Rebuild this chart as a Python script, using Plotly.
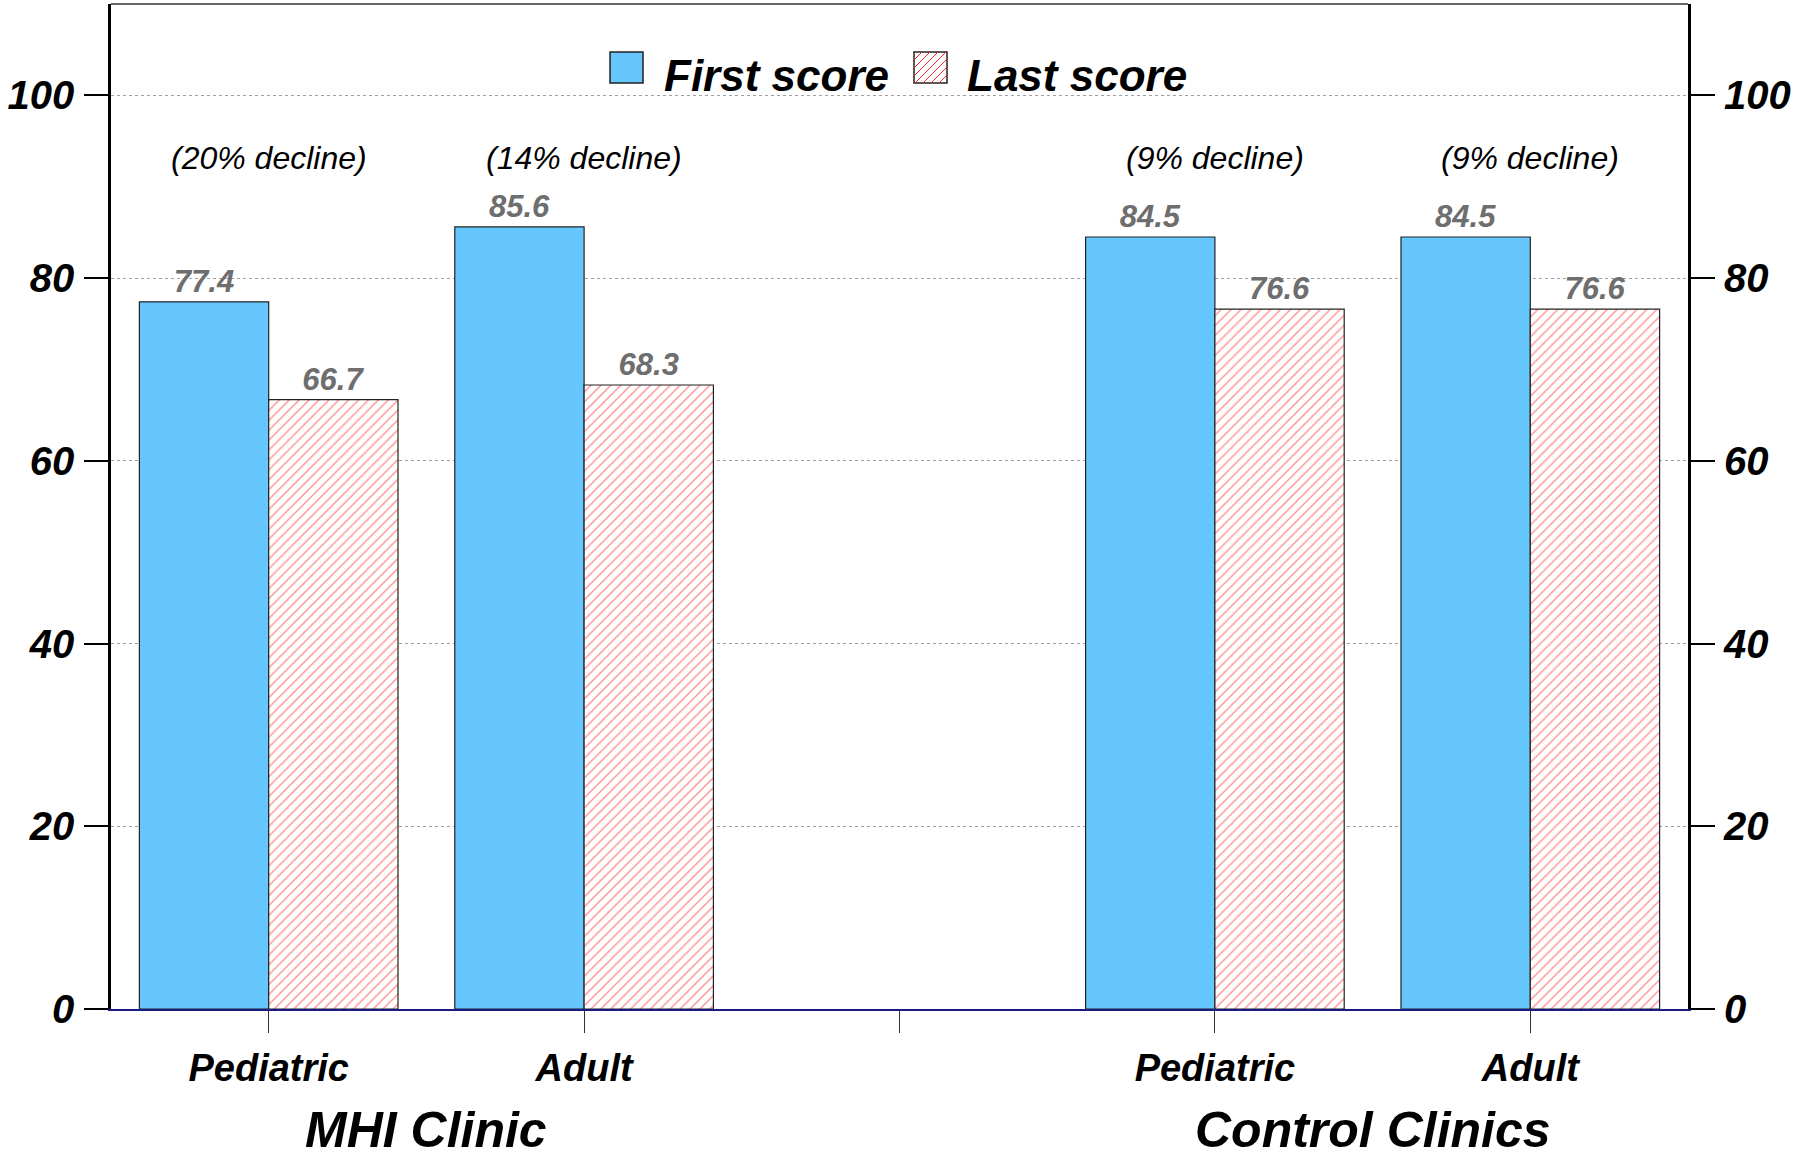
import plotly.graph_objects as go

# Chart data
categories = ["Pediatric", "Adult", "", "Pediatric", "Adult"]
first_score = [77.4, 85.6, None, 84.5, 84.5]
last_score = [66.7, 68.3, None, 76.6, 76.6]
decline_labels = ["(20% decline)", "(14% decline)", "", "(9% decline)", "(9% decline)"]
group_names = ["MHI Clinic", "Control Clinics"]
group_centers = [0.5, 3.5]
y_ticks = [0, 20, 40, 60, 80, 100]

x_pos = list(range(len(categories)))

W, H = 1796, 1160
ML, MR, MT, MB = 111, 108, 4, 151
PW, PH = W - ML - MR, H - MT - MB

FONT = "Liberation Sans, Arial, sans-serif"
BLUE = "#66C7FF"
HATCH_RED = "#FF2424"


def px_to_paper_x(px):
    return (px - ML) / PW


def px_to_paper_y(py):
    return (H - MB - py) / PH


label_font = dict(family=FONT, size=31, color="#6E6E6E", weight="bold", style="italic")

fig = go.Figure()

fig.add_trace(go.Bar(
    x=x_pos, y=first_score, name="First score",
    marker=dict(color=BLUE, line=dict(color="#222222", width=1.2)),
    text=[None if v is None else f"{v:.1f}" for v in first_score],
    textposition="outside", cliponaxis=False, textfont=label_font,
    showlegend=False,
))
fig.add_trace(go.Bar(
    x=x_pos, y=last_score, name="Last score",
    marker=dict(color="white", line=dict(color="#222222", width=1.2),
                pattern=dict(shape="/", fgcolor=HATCH_RED, bgcolor="white",
                             size=7, solidity=0.2)),
    text=[None if v is None else f"{v:.1f}" for v in last_score],
    textposition="outside", cliponaxis=False, textfont=label_font,
    showlegend=False,
))

# Decline notes above each category
annotations = []
for xi, lab in zip(x_pos, decline_labels):
    if lab:
        annotations.append(dict(
            x=xi, y=93.1, xref="x", yref="y", text=lab, showarrow=False,
            font=dict(family=FONT, size=32, color="black", style="italic"),
        ))

# Clinic group names under the category labels
for name, cx in zip(group_names, group_centers):
    annotations.append(dict(
        x=cx, y=px_to_paper_y(H), xref="x", yref="paper", text=name, showarrow=False,
        yanchor="bottom",
        font=dict(family=FONT, size=50, color="black", weight="bold", style="italic"),
    ))

# Legend drawn as boxes and labels across the top
shapes = []
legend_items = [
    ("First score", 610, 662, "blue"),
    ("Last score", 914, 965, "hatch"),
]
box_w, box_top, box_bot = 33, 52, 83
for label, bx, tx, kind in legend_items:
    x0, x1 = px_to_paper_x(bx), px_to_paper_x(bx + box_w)
    y0, y1 = px_to_paper_y(box_bot), px_to_paper_y(box_top)
    shapes.append(dict(type="rect", xref="paper", yref="paper", x0=x0, x1=x1, y0=y0, y1=y1,
                       fillcolor=BLUE if kind == "blue" else "white",
                       line=dict(color="#222222", width=1.5), layer="above"))
    if kind == "hatch":
        step = 8
        c = bx + box_top + step  # x + y constant for "/" strokes
        cmax = bx + box_w + box_bot
        while c < cmax:
            # clip the stroke x + y = c to the box
            xa = max(bx, c - box_bot)
            xb = min(bx + box_w, c - box_top)
            if xb > xa:
                shapes.append(dict(type="line", xref="paper", yref="paper",
                                   x0=px_to_paper_x(xa), y0=px_to_paper_y(c - xa),
                                   x1=px_to_paper_x(xb), y1=px_to_paper_y(c - xb),
                                   line=dict(color=HATCH_RED, width=1), layer="above"))
            c += step
    annotations.append(dict(
        x=px_to_paper_x(tx), y=px_to_paper_y(76), xref="paper", yref="paper",
        xanchor="left", yanchor="middle", text=label, showarrow=False,
        font=dict(family=FONT, size=44, color="black", weight="bold", style="italic"),
    ))

# Thin frame line along the top of the plot area
shapes.append(dict(type="line", xref="paper", yref="paper", x0=0, x1=1, y0=1, y1=1,
                   line=dict(color="#666666", width=2)))

tick_font = dict(family=FONT, size=40, color="black", weight="bold", style="italic")

fig.update_layout(
    width=W, height=H,
    margin=dict(l=ML, r=MR, t=MT, b=MB, pad=0),
    paper_bgcolor="white", plot_bgcolor="white",
    barmode="group", bargap=0.18, bargroupgap=0,
    annotations=annotations, shapes=shapes,
    xaxis=dict(
        range=[-0.5, 4.5], tickmode="array", tickvals=x_pos, ticktext=categories,
        ticks="outside", ticklen=22, tickwidth=1, tickcolor="#333333",
        showline=True, linecolor="#1A1A80", linewidth=2,
        showgrid=False, zeroline=False, ticklabelstandoff=2, automargin=False,
        tickfont=dict(family=FONT, size=38, color="black", weight="bold", style="italic"),
    ),
    yaxis=dict(
        range=[0, 110], tickmode="array", tickvals=y_ticks,
        ticks="outside", ticklen=24, tickwidth=2, tickcolor="black",
        showline=True, linecolor="black", linewidth=2.5,
        showgrid=True, gridcolor="#A0A0A0", gridwidth=1, griddash="3px,3px",
        zeroline=False, ticklabelstandoff=2, tickfont=tick_font, automargin=False,
    ),
    yaxis2=dict(
        range=[0, 110], tickmode="array", tickvals=y_ticks, overlaying="y", side="right",
        ticks="outside", ticklen=24, tickwidth=2, tickcolor="black",
        showline=True, linecolor="black", linewidth=3,
        showgrid=False, zeroline=False, ticklabelstandoff=1, tickfont=tick_font,
        automargin=False,
    ),
)

# Invisible trace so the right-hand axis is drawn
fig.add_trace(go.Scatter(x=[x_pos[0]], y=[0], yaxis="y2", mode="markers",
                         marker=dict(opacity=0), showlegend=False, hoverinfo="skip"))

fig.write_html("out.html")
